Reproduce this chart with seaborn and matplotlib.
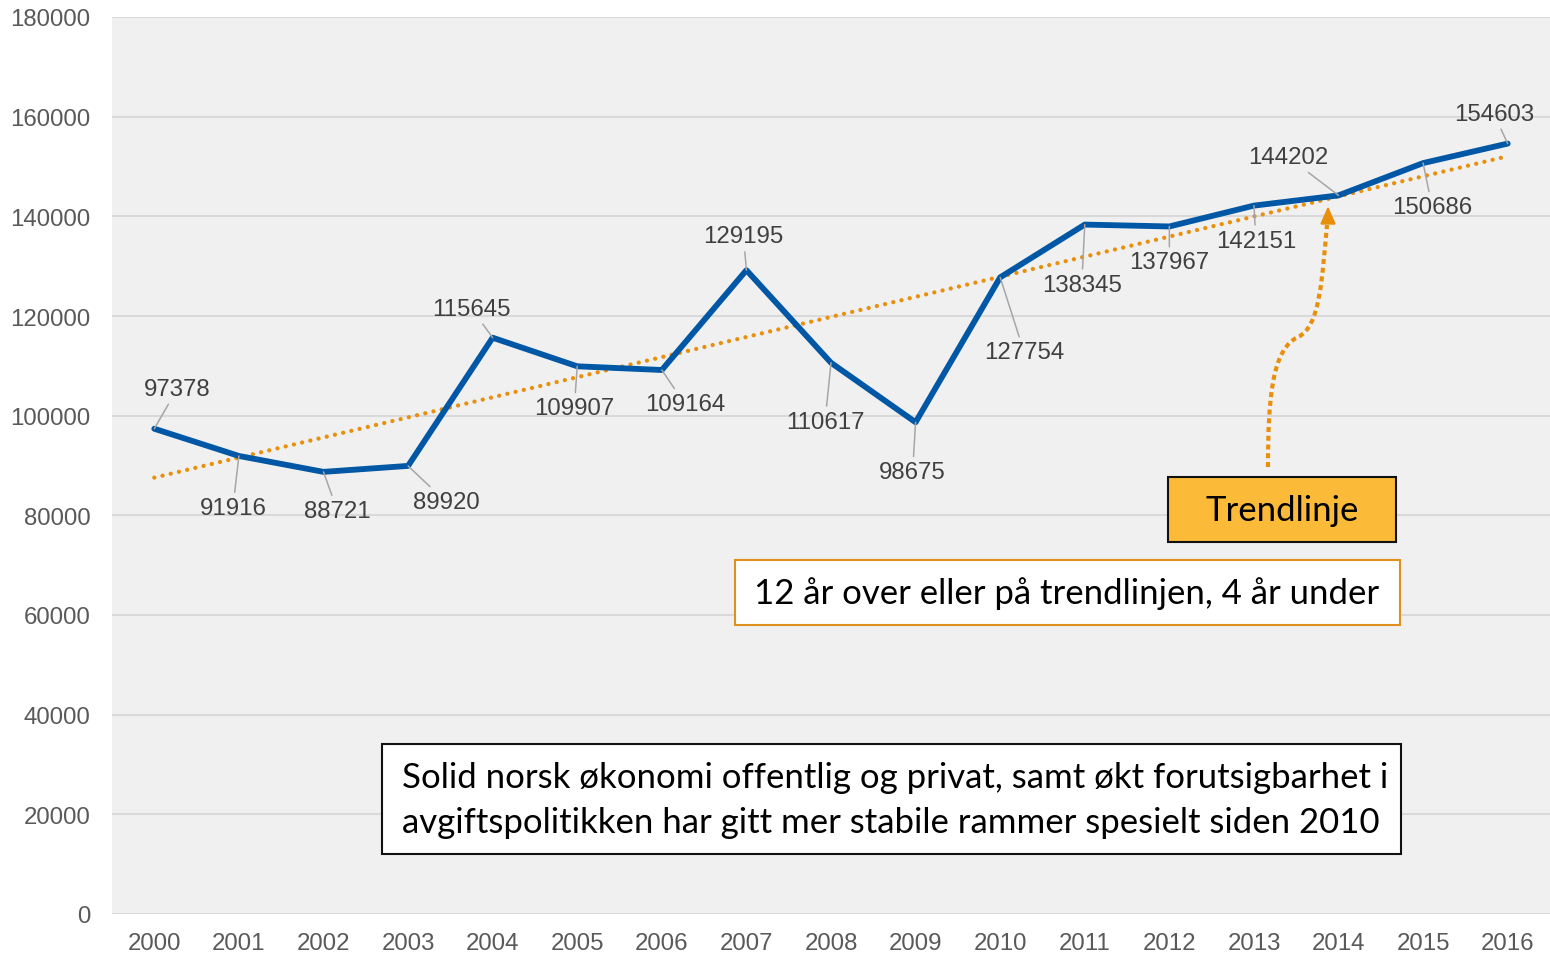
import numpy as np
import pandas as pd
import matplotlib
matplotlib.use("Agg")
import matplotlib.pyplot as plt
import seaborn as sns
from matplotlib.patches import Rectangle, PathPatch, Polygon
from matplotlib.path import Path

# ---------------- data ----------------
years = [str(y) for y in range(2000, 2017)]
values = [97378, 91916, 88721, 89920, 115645, 109907, 109164, 129195,
          110617, 98675, 127754, 138345, 137967, 142151, 144202, 150686, 154603]
y_ticks = [0, 20000, 40000, 60000, 80000, 100000, 120000, 140000, 160000, 180000]
# label offsets (pixels) from each point
label_dx = [23, -6, 14, 38, -21, -3, 23, -3, -6, -3, 24, -3, 0, 2, -50, 9, -14]
label_dy = [40, -52, -39, -36, 29, -42, -34, 34, -59, -50, -75, -60, -36, -35, 38, -44, 30]

box_trend = "Trendlinje"
box_count = "12 år over eller på trendlinjen, 4 år under"
box_note = ["Solid norsk økonomi offentlig og privat, samt økt forutsigbarhet i",
            "avgiftspolitikken har gitt mer stabile rammer spesielt siden 2010"]

df = pd.DataFrame({"idx": np.arange(len(years)), "year": years, "value": values})

# ---------------- style ----------------
sns.set_style("white")
plt.rcParams["font.family"] = ["Liberation Sans", "DejaVu Sans"]

W, H = 1550, 954
fig = plt.figure(figsize=(W / 100, H / 100), dpi=100)
fig.patch.set_facecolor("white")

def fx(px):
    return px / W

def fy(py):
    return 1 - py / H

ax = fig.add_axes([fx(112), fy(915), 1 - fx(112), fy(18) - fy(915)])
ax.set_facecolor("#f0f0f0")

BLUE = "#0057a5"
ORANGE = "#e8900c"

# trendline (linear regression)
sns.regplot(data=df, x="idx", y="value", ax=ax, scatter=False, ci=None,
            line_kws=dict(color=ORANGE, lw=3.1, linestyle=(0, (0.01, 1.95)),
                          dash_capstyle="round"))
# main line
sns.lineplot(data=df, x="idx", y="value", ax=ax, color=BLUE, lw=4.2,
             solid_capstyle="round", solid_joinstyle="round")

ax.set_xlim(-0.5, len(years) - 0.5)
ax.set_ylim(0, 180000)
ax.set_xticks(df["idx"])
ax.set_xticklabels(years)
ax.set_yticks(y_ticks)
ax.set_yticklabels([str(t) for t in y_ticks])
ax.set_xlabel("")
ax.set_ylabel("")
ax.yaxis.grid(True, color="#d9d9d9", lw=1.5)
ax.xaxis.grid(False)
ax.set_axisbelow(True)
for s in ax.spines.values():
    s.set_visible(False)
ax.tick_params(axis="both", length=0, labelsize=17.3, colors="#595959")
ax.tick_params(axis="y", pad=15.5)
ax.tick_params(axis="x", pad=13)

# data labels with leader lines
for i, v in enumerate(values):
    ax.annotate(str(v), xy=(i, v), xytext=(label_dx[i], label_dy[i]),
                textcoords="offset pixels", ha="center", va="center",
                fontsize=17.3, color="#404040",
                arrowprops=dict(arrowstyle="-", color="#a6a6a6", lw=1.1,
                                shrinkA=1, shrinkB=0))

# ---------------- annotation boxes ----------------
box_font = ["Lato", "DejaVu Sans"]
BFS = 25

def add_box(x0, y0, x1, y1, face, edge, lw):
    r = Rectangle((fx(x0), fy(y1)), fx(x1) - fx(x0), fy(y0) - fy(y1),
                  transform=fig.transFigure, facecolor=face, edgecolor=edge,
                  lw=lw, zorder=5)
    fig.add_artist(r)

add_box(1168, 478, 1396, 543, "#fbba38", "#111111", 1.5)
fig.text(fx(1282), fy(511), box_trend, ha="center", va="center",
         fontsize=BFS, family=box_font, color="black", zorder=6)

add_box(735, 561, 1400, 626, "white", "#e0901e", 1.5)
fig.text(fx(1067), fy(594), box_count, ha="center", va="center",
         fontsize=BFS, family=box_font, color="black", zorder=6)

add_box(382, 745, 1401, 855, "white", "#111111", 1.5)
fig.text(fx(402), fy(778), box_note[0], ha="left", va="center",
         fontsize=BFS, family=box_font, color="black", zorder=6)
fig.text(fx(402), fy(823), box_note[1], ha="left", va="center",
         fontsize=BFS, family=box_font, color="black", zorder=6)

# curved dotted arrow from Trendlinje box to trendline
pts = [(1268, 468), (1268, 400), (1272, 350), (1298, 338),
       (1320, 328), (1322, 280), (1327, 226)]
verts = [(fx(px), fy(py)) for px, py in pts]
codes = [Path.MOVETO, Path.CURVE4, Path.CURVE4, Path.CURVE4,
         Path.CURVE4, Path.CURVE4, Path.CURVE4]
fig.add_artist(PathPatch(Path(verts, codes), transform=fig.transFigure,
                         fill=False, edgecolor=ORANGE, lw=3,
                         linestyle=(0, (1.2, 0.9)), zorder=6))
fig.add_artist(Polygon([(fx(1328), fy(209)), (fx(1321), fy(225)), (fx(1335), fy(225))],
                       closed=True, transform=fig.transFigure,
                       facecolor=ORANGE, edgecolor=ORANGE, zorder=6))

fig.savefig("out.png", dpi=100)
